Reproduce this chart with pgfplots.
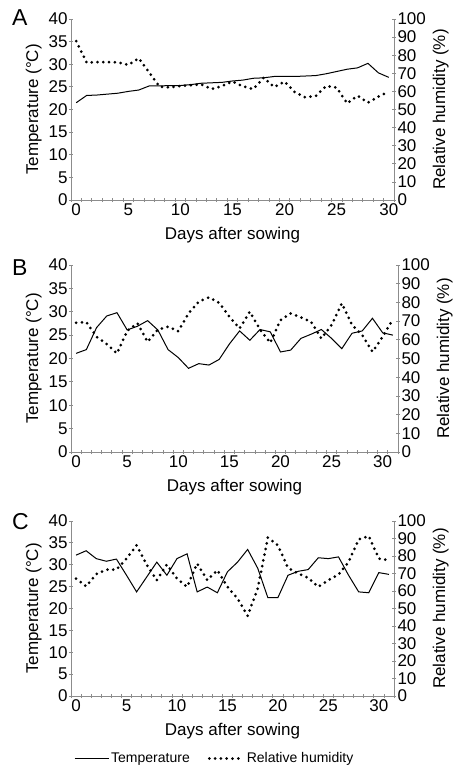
\documentclass[border=0pt]{standalone}
\usepackage{fontspec}
\setmainfont{Liberation Sans}
\usepackage{pgfplots}
\usepackage{pgfplotstable}
\pgfplotsset{compat=1.18}
\definecolor{axgray}{RGB}{140,140,140}

% day, temperature (C), relative humidity (%)
\pgfplotstableread{
day temp rh
0 21.5 87.8
1 23.1 75.9
2 23.2 76.2
3 23.4 76.2
4 23.6 76.0
5 24.0 74.6
6 24.3 78.3
7 25.2 70.5
8 25.2 62.6
9 25.3 62.2
10 25.3 63.0
11 25.5 63.4
12 25.8 63.9
13 25.9 61.3
14 26.0 63.0
15 26.3 65.5
16 26.5 62.8
17 26.9 61.3
18 27.0 67.6
19 27.3 62.4
20 27.3 65.4
21 27.3 59.5
22 27.4 56.7
23 27.5 57.5
24 27.9 63.0
25 28.4 62.1
26 28.9 53.4
27 29.2 57.6
28 30.2 53.8
29 28.1 57.1
30 27.1 59.9
}\dataA

\pgfplotstableread{
day temp rh
0 21.1 69.1
1 21.9 69.5
2 26.6 61.6
3 29.1 57.7
4 29.8 52.7
5 26.1 64.8
6 26.9 68.8
7 28.1 58.9
8 26.1 65.5
9 21.9 67.0
10 20.2 64.6
11 17.9 74.1
12 18.9 80.4
13 18.6 82.7
14 19.8 79.8
15 23.1 72.3
16 25.9 66.1
17 23.9 75.0
18 26.2 65.5
19 25.7 58.4
20 21.4 70.5
21 21.8 74.1
22 24.3 72.0
23 25.2 69.6
24 26.2 60.7
25 24.3 67.9
26 22.1 79.5
27 25.4 67.9
28 25.9 62.5
29 28.6 53.6
30 25.5 61.6
31 25.0 71.0
}\dataB

\pgfplotstableread{
day temp rh
0 32.2 67.1
1 33.2 62.7
2 31.4 69.6
3 30.8 72.2
4 31.3 72.2
5 27.6 78.5
6 23.8 86.1
7 27.2 75.0
8 30.6 66.2
9 27.6 75.1
10 31.4 67.1
11 32.5 62.4
12 23.8 75.7
13 24.9 66.2
14 23.6 71.9
15 28.4 62.4
16 30.6 55.7
17 33.5 45.8
18 29.2 61.4
19 22.5 90.5
20 22.5 86.1
21 27.6 73.2
22 28.5 70.0
23 28.9 67.5
24 31.6 62.4
25 31.4 66.2
26 31.8 69.4
27 27.6 76.6
28 23.8 89.5
29 23.6 91.4
30 28.2 78.5
31 27.8 77.6
}\dataC

\pgfplotsset{
  base/.style={
    scale only axis,
    xmin=-0.5,
    tick align=outside,
    major tick length=0pt,
    minor tick length=4pt,
    tick style={draw=axgray, line width=0.8pt},
    tick label style={font=\fontsize{17}{20}\selectfont},
    label style={font=\fontsize{17}{20}\selectfont},
    /pgf/number format/assume math mode=true,
    clip=false,
  },
  tempax/.style={base,
    axis x line=bottom, axis y line=left,
    every outer x axis line/.append style={-},
    every outer y axis line/.append style={-},
    every inner x axis line/.append style={-},
    every inner y axis line/.append style={-},
    axis line style={draw=axgray, line width=0.8pt, -},
    ymin=0, ymax=40,
    ytick={0,5,...,40}, minor ytick={0,5,...,40},
    xtick={0,5,...,30},
    xlabel={Days after sowing},
    xlabel style={yshift=-5pt},
    ylabel={Temperature (°C)},
  },
  rhax/.style={base,
    hide x axis,
    axis y line=right,
    every outer y axis line/.append style={-},
    every inner y axis line/.append style={-},
    axis line style={draw=axgray, line width=0.8pt, -},
    ymin=0, ymax=100,
    ytick={0,10,...,100}, minor ytick={0,10,...,100},
    ylabel={Relative humidity (\%)},
    ylabel style={font=\fontsize{17}{20}\selectfont},
  },
  templine/.style={black, line width=1pt, no markers},
  rhline/.style={black, line width=3pt, line cap=round,
    dash pattern=on 0pt off 5.8pt, no markers},
}

\begin{document}
\begin{tikzpicture}
\useasboundingbox (0pt,0pt) rectangle (453pt,-765pt);

% panel A
\begin{axis}[tempax, at={(71pt,-200pt)}, anchor=south west,
  width=323pt, height=181pt, xmax=30.5, minor xtick={-0.5,0.5,...,30.5}]
  \addplot[templine] table[x=day, y=temp] {\dataA};
\end{axis}
\begin{axis}[rhax, at={(71pt,-200pt)}, anchor=south west,
  width=323pt, height=181pt, xmax=30.5]
  \addplot[rhline] table[x=day, y=rh] {\dataA};
\end{axis}

% panel B
\begin{axis}[tempax, at={(71pt,-452pt)}, anchor=south west,
  width=327pt, height=187pt, xmax=31.5, minor xtick={-0.5,0.5,...,31.5}]
  \addplot[templine] table[x=day, y=temp] {\dataB};
\end{axis}
\begin{axis}[rhax, at={(71pt,-452pt)}, anchor=south west,
  width=327pt, height=187pt, xmax=31.5]
  \addplot[rhline] table[x=day, y=rh] {\dataB};
\end{axis}

% panel C
\begin{axis}[tempax, at={(71pt,-696pt)}, anchor=south west,
  width=323pt, height=175pt, xmax=31.5, minor xtick={-0.5,0.5,...,31.5}]
  \addplot[templine] table[x=day, y=temp] {\dataC};
\end{axis}
\begin{axis}[rhax, at={(71pt,-696pt)}, anchor=south west,
  width=323pt, height=175pt, xmax=31.5,
  legend columns=2,
  legend style={at={(0,-0.30)}, anchor=north west, draw=none, fill=none,
    font=\fontsize{14}{16}\selectfont,
    /tikz/every even column/.append style={column sep=16pt}},
  legend image code/.code={\draw[#1] (0pt,0pt) -- (34pt,0pt);}]
  \addlegendimage{templine}
  \addlegendentry{Temperature}
  \addplot[rhline] table[x=day, y=rh] {\dataC};
  \addlegendentry{Relative humidity}
\end{axis}

\node[anchor=north west, inner sep=0pt, font=\fontsize{23}{26}\selectfont] at (12pt,-9pt) {A};
\node[anchor=north west, inner sep=0pt, font=\fontsize{23}{26}\selectfont] at (12pt,-259pt) {B};
\node[anchor=north west, inner sep=0pt, font=\fontsize{23}{26}\selectfont] at (12pt,-513pt) {C};
\end{tikzpicture}
\end{document}
